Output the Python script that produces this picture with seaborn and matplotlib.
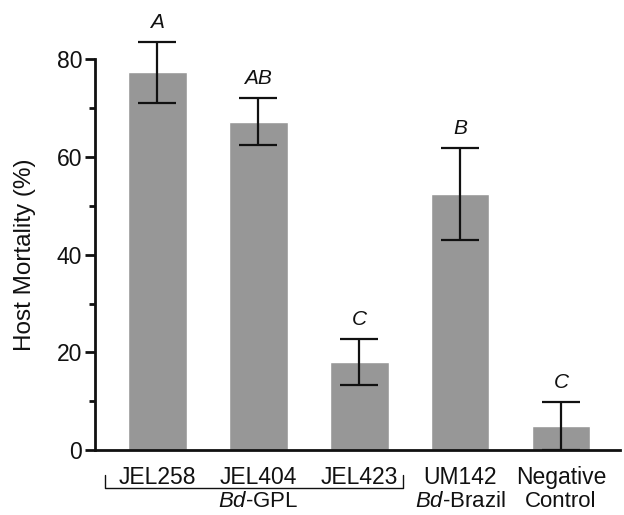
import seaborn as sns
import matplotlib.pyplot as plt
import pandas as pd
import numpy as np

# Host mortality by Bd isolate (bars = mean, whiskers = SE)
isolates = ["JEL258", "JEL404", "JEL423", "UM142", "Negative"]
second_row = ["", r"$\mathit{Bd}$-GPL", "", r"$\mathit{Bd}$-Brazil", "Control"]
mortality = [77.3, 67.2, 18.1, 52.4, 4.9]
err_upper = [83.5, 72.0, 22.8, 61.8, 9.8]
err_lower = [71.0, 62.5, 13.4, 42.9, 0.0]
letters = ["A", "AB", "C", "B", "C"]

df = pd.DataFrame({"Isolate": isolates, "Mortality": mortality})

sns.set_style("ticks")
plt.rcParams["font.family"] = ["Liberation Sans", "DejaVu Sans"]
plt.rcParams["mathtext.fontset"] = "custom"
plt.rcParams["mathtext.rm"] = "Liberation Sans"
plt.rcParams["mathtext.it"] = "Liberation Sans:italic"
ink = "#111111"

fig = plt.figure(figsize=(6.24, 5.15), dpi=100)
ax = fig.add_axes([0.152, 0.126, 0.841, 0.854])

sns.barplot(data=df, x="Isolate", y="Mortality", color="#979797",
            saturation=1, width=0.58, errorbar=None, ax=ax)

mort = np.array(mortality)
yerr = [mort - np.array(err_lower), np.array(err_upper) - mort]
ax.errorbar(np.arange(len(isolates)), mort, yerr=yerr, fmt="none",
            ecolor=ink, elinewidth=1.6, capsize=14, capthick=1.6, zorder=3)

for i, (lab, top) in enumerate(zip(letters, err_upper)):
    ax.text(i, top + 4.0, lab, ha="center", va="center",
            fontsize=15, style="italic", color=ink)

ax.set_xlim(-0.62, 4.58)
ax.set_ylim(0, 90)
ax.set_yticks([0, 20, 40, 60, 80])
ax.set_yticks([10, 30, 50, 70], minor=True)
ax.tick_params(axis="y", which="major", length=7, width=2, labelsize=16.5,
               pad=2, colors=ink)
ax.tick_params(axis="y", which="minor", length=4, width=2, colors=ink)
ax.tick_params(axis="x", length=0, labelbottom=False)
ax.set_xlabel("")
ax.set_ylabel("Host Mortality (%)", fontsize=17.5, color=ink)
ax.yaxis.set_label_coords(-0.112, 0.445)

for s in ["top", "right"]:
    ax.spines[s].set_visible(False)
for s in ["left", "bottom"]:
    ax.spines[s].set_linewidth(2)
    ax.spines[s].set_color(ink)
ax.spines["left"].set_bounds(0, 80)

trans = ax.get_xaxis_transform()
for i, (top_txt, bottom_txt) in enumerate(zip(isolates, second_row)):
    ax.text(i, -0.062, top_txt, transform=trans, ha="center", va="center",
            fontsize=16.5, color=ink)
    if bottom_txt:
        ax.text(i, -0.117, bottom_txt, transform=trans, ha="center",
                va="center", fontsize=16, color=ink)

# bracket grouping the Bd-GPL isolates
ax.plot([-0.52, -0.52, 2.43, 2.43], [-0.057, -0.086, -0.086, -0.057],
        transform=trans, color=ink, lw=1, clip_on=False)

plt.savefig("out.png", dpi=100)
